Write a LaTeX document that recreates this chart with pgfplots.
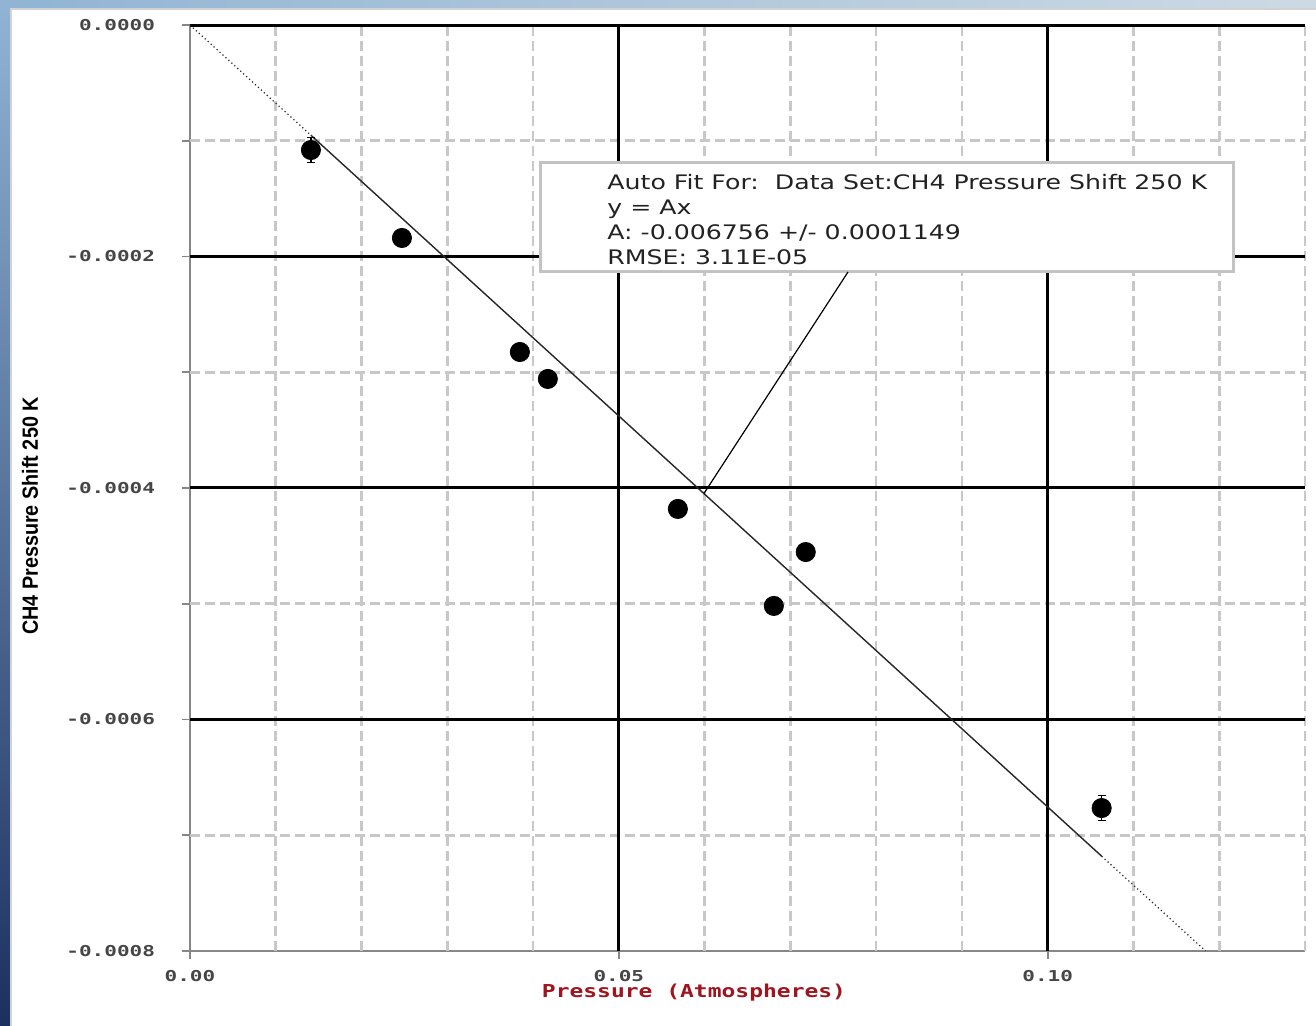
\documentclass[border=0pt]{standalone}
\usepackage{fontspec}
\usepackage{pgfplots}
\pgfplotsset{compat=1.18}
\setmainfont{DejaVu Sans}
\newfontfamily\tickfont[FakeStretch=1.4]{DejaVu Sans Mono}
\newfontfamily\xlabfont[FakeStretch=1.29]{DejaVu Sans Mono}
\newfontfamily\ylabfont[FakeStretch=0.9]{Liberation Sans}
\newfontfamily\boxfont[FakeStretch=1.26]{DejaVu Sans}

\definecolor{minorgrid}{RGB}{200,200,200}
\definecolor{spine}{RGB}{135,135,135}
\definecolor{labred}{RGB}{160,20,30}
\definecolor{tickgray}{RGB}{70,70,70}
\definecolor{bgtop}{RGB}{145,180,212}
\definecolor{bgbot}{RGB}{28,48,96}
\definecolor{bgpale}{RGB}{205,218,228}
\definecolor{boxgray}{RGB}{195,195,195}
\definecolor{boxtext}{RGB}{34,34,34}

\begin{document}
\begin{tikzpicture}
\path[use as bounding box] (0,0) rectangle (658pt,513pt);
% window backdrop
\shade[top color=bgtop, bottom color=bgbot] (0,0) rectangle (658pt,513pt);
\shade[left color=bgtop, right color=bgpale] (0,509pt) rectangle (658pt,513pt);
\fill[white] (5pt,0) rectangle (658pt,509pt);
\draw[gray!35, line width=1pt] (5.5pt,-1pt) -- (5.5pt,508.5pt) -- (659pt,508.5pt);

\begin{axis}[
  at={(95pt,37.5pt)}, anchor=south west, scale only axis,
  width=557.5pt, height=463pt,
  xmin=0, xmax=0.13, ymin=-0.0008, ymax=0,
  axis x line*=bottom, axis y line*=left,
  axis line style={spine, line width=1pt, -},
  clip=false,
  scaled x ticks=false, scaled y ticks=false,
  xtick={0,0.05,0.1}, xticklabels={0.00,0.05,0.10},
  ytick={-0.0008,-0.0007,-0.0006,-0.0005,-0.0004,-0.0003,-0.0002,-0.0001,0},
  yticklabels={-0.0008,,-0.0006,,-0.0004,,-0.0002,,0.0000},
  tick align=outside, major tick length=4pt,
  every tick/.style={spine, line width=0.8pt},
  tick label style={font=\tickfont\bfseries\fontsize{7.5}{9}\selectfont, text=tickgray},
  yticklabel style={xshift=-10pt},
  xticklabel style={yshift=-2pt},
]
% minor grid
\pgfplotsinvokeforeach{0.01,0.02,0.03,0.04,0.06,0.07,0.08,0.09,0.11,0.12,0.13}{
  \draw[minorgrid, line width=1.3pt, dash pattern=on 5pt off 2.5pt]
    (axis cs:#1,-0.0008) -- (axis cs:#1,0);
}
\pgfplotsinvokeforeach{-0.0001,-0.0003,-0.0005,-0.0007}{
  \draw[minorgrid, line width=1.3pt, dash pattern=on 5pt off 2.5pt]
    (axis cs:0,#1) -- (axis cs:0.13,#1);
}
% major grid
\pgfplotsinvokeforeach{0.05,0.1}{
  \draw[black, line width=1.5pt] (axis cs:#1,-0.0008) -- (axis cs:#1,0);
}
\pgfplotsinvokeforeach{0,-0.0002,-0.0004,-0.0006}{
  \draw[black, line width=1.5pt] (axis cs:0,#1) -- (axis cs:0.13,#1);
}

% fit y = A x, solid over the data range, dotted beyond
\addplot[black!85, line width=0.6pt, dash pattern=on 0.6pt off 1.4pt]
  coordinates {(0,0) (0.0141,-0.00009526)};
\addplot[black!85, line width=0.7pt]
  coordinates {(0.0141,-0.00009526) (0.1063,-0.00071816)};
\addplot[black!85, line width=0.6pt, dash pattern=on 0.6pt off 1.4pt]
  coordinates {(0.1063,-0.00071816) (0.1184,-0.00079991)};

% measured pressure shifts
\addplot[only marks, mark=*, mark size=4.8pt, black,
  error bars/.cd, y dir=both, y explicit,
  error bar style={line width=0.6pt},
  error mark options={rotate=90, mark size=2pt, line width=0.6pt}]
  table[x=x, y=y, y error=e] {
x        y           e
0.01410  -0.0001080  0.0000110
0.02471  -0.0001840  0.0000060
0.03846  -0.0002825  0.0000060
0.04172  -0.0003058  0.0000060
0.05688  -0.0004181  0.0000060
0.07179  -0.0004553  0.0000060
0.06807  -0.0005019  0.0000060
0.10629  -0.0006765  0.0000110
};
\end{axis}

% fit annotation
\draw[fill=white, draw=boxgray, line width=1.5pt] (270pt,377pt) rectangle (616.5pt,431.5pt);
\begin{scope}[every node/.style={anchor=base west, inner sep=0pt, text=boxtext,
    font=\boxfont\fontsize{10}{12}\selectfont}]
\node at (303.5pt,418pt) {Auto Fit For:\ \ Data Set:CH4 Pressure Shift 250 K};
\node at (303.5pt,405.5pt) {y = Ax};
\node at (303.5pt,393pt) {A: -0.006756 +/- 0.0001149};
\node at (303.5pt,380.5pt) {RMSE: 3.11E-05};
\end{scope}
\draw[black, line width=0.6pt] (424pt,377pt) -- (352pt,266.3pt);

% axis titles
\node[rotate=90, font=\ylabfont\bfseries\fontsize{11}{13}\selectfont] at (15pt,255pt) {CH4 Pressure Shift 250 K};
\node[font=\xlabfont\bfseries\fontsize{8.9}{10}\selectfont, text=labred] at (347pt,16.5pt) {Pressure (Atmospheres)};
\end{tikzpicture}
\end{document}
